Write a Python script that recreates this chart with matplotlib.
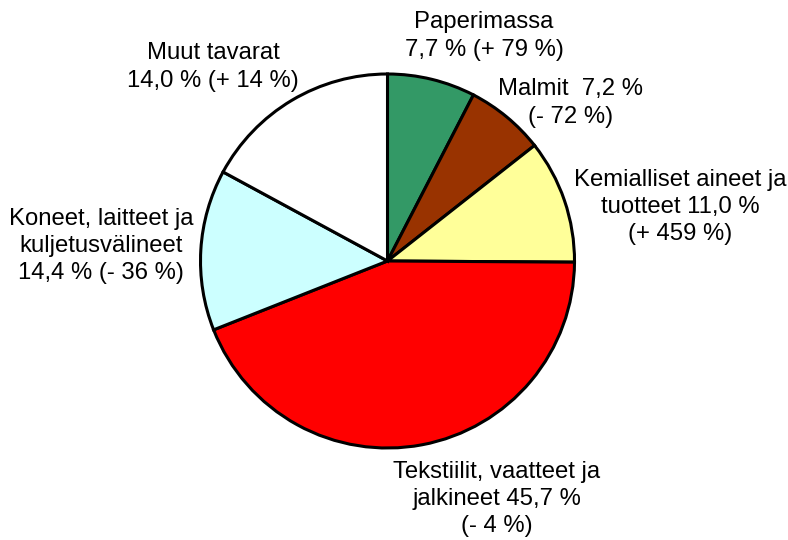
import matplotlib.pyplot as plt

# -- Data
labels = ["Paperimassa\n7,7 % (+ 79 %)",
          "Malmit  7,2 %\n(- 72 %)",
          "Kemialliset aineet ja\ntuotteet 11,0 %\n(+ 459 %)",
          "Tekstiilit, vaatteet ja\njalkineet 45,7 %\n(- 4 %)",
          "Koneet, laitteet ja\nkuljetusvälineet\n14,4 % (- 36 %)",
          "Muut tavarat\n14,0 % (+ 14 %)"]
# slice sizes as drawn in the picture
shares = [7.6, 6.8, 10.7, 43.9, 13.9, 17.1]
colors = ["#339966", "#993300", "#FFFF99", "#FF0000", "#CCFFFF", "#FFFFFF"]

# label centres in pixel coords (x, y from top)
label_pos = [(484, 36), (571, 103), (680, 207), (497, 499), (101, 246), (213, 67)]

W, H = 788, 540
plt.rcParams['font.family'] = ['Liberation Sans', 'DejaVu Sans']

fig = plt.figure(figsize=(W / 100, H / 100), dpi=100)
ax = fig.add_axes([0, 0, 1, 1])
ax.set_xlim(0, W)
ax.set_ylim(0, H)
ax.set_aspect('equal')
ax.axis('off')

ax.pie(shares, colors=colors, startangle=90, counterclock=False,
       center=(387.5, H - 261), radius=187,
       wedgeprops=dict(edgecolor='black', linewidth=2.2))

for txt, (px, py) in zip(labels, label_pos):
    ax.text(px, H - py, txt, ha='center', va='center', fontsize=17.2,
            linespacing=1.3, color='black')

ax.set_xlim(0, W)
ax.set_ylim(0, H)
fig.savefig("out.png", dpi=100)
